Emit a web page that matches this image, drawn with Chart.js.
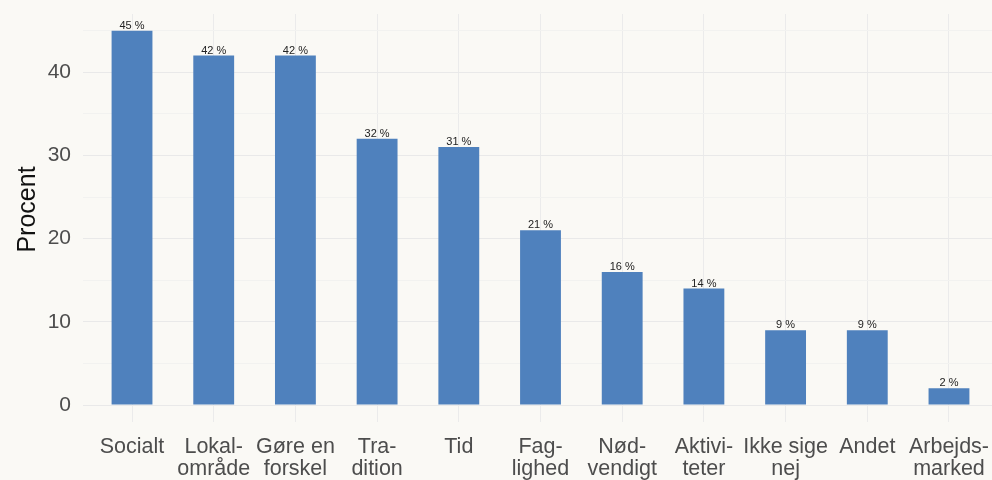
<!DOCTYPE html>
<html>
<head>
<meta charset="utf-8">
<script src="https://cdn.jsdelivr.net/npm/chart.js@4/dist/chart.umd.min.js"></script>
<style>
  html, body { margin: 0; padding: 0; background: #faf9f5; overflow: hidden; }
  #wrap { width: 998px; height: 480px; }
</style>
</head>
<body>
<div id="wrap"><canvas id="chart"></canvas></div>
<script>
// categories (wrapped as in the picture) and percentages
const categories = [
    ['Socialt'], ['Lokal-', 'område'], ['Gøre en', 'forskel'], ['Tra-', 'dition'],
    ['Tid'], ['Fag-', 'lighed'], ['Nød-', 'vendigt'], ['Aktivi-', 'teter'],
    ['Ikke sige', 'nej'], ['Andet'], ['Arbejds-', 'marked']
];
const values = [45, 42, 42, 32, 31, 21, 16, 14, 9, 9, 2];
const yTicks = [0, 10, 20, 30, 40];

const barLabels = {
    id: 'barLabels',
    afterDatasetsDraw(chart) {
        const ctx = chart.ctx;
        const meta = chart.getDatasetMeta(0);
        ctx.save();
        ctx.font = '11px "Liberation Sans", Arial, sans-serif';
        ctx.fillStyle = '#222';
        ctx.textAlign = 'center';
        ctx.textBaseline = 'alphabetic';
        meta.data.forEach(function (bar, i) {
            ctx.fillText(values[i] + ' %', bar.x, bar.y - 2);
        });
        ctx.restore();
    }
};

const ctx = document.getElementById('chart').getContext('2d');
new Chart(ctx, {
    type: 'bar',
    data: {
        datasets: [{
            data: values.map((v, i) => ({ x: i, y: v })),
            backgroundColor: '#4f81bd',
            borderWidth: 0,
            barPercentage: 0.5,
            categoryPercentage: 1
        }]
    },
    options: {
        responsive: true,
        maintainAspectRatio: false,
        animation: false,
        layout: { padding: { top: 14, left: 0, right: 0, bottom: 0 } },
        plugins: {
            legend: { display: false },
            tooltip: { enabled: false }
        },
        scales: {
            x: {
                type: 'linear',
                offset: false,
                min: -0.6,
                max: categories.length - 0.4,
                afterBuildTicks: function (axis) {
                    axis.ticks = categories.map((_, i) => ({ value: i }));
                },
                afterFit: function (axis) {
                    axis.height = 75;
                    axis.paddingLeft = 0;
                    axis.paddingRight = 0;
                },
                border: { display: false },
                grid: { offset: false, color: '#ebebeb', lineWidth: 1, tickLength: 17 },
                ticks: {
                    autoSkip: false,
                    maxRotation: 0,
                    padding: 14,
                    color: '#4d4d4d',
                    font: { family: '"Liberation Sans", Arial, sans-serif', size: 21.5, lineHeight: 1.03 },
                    callback: function (value) { return categories[value]; }
                }
            },
            y: {
                min: 0,
                max: 47,
                afterFit: function (axis) {
                    axis.width = 83;
                    axis.paddingTop = 0;
                    axis.paddingBottom = 0;
                },
                border: { display: false },
                grid: {
                    drawTicks: false,
                    color: function (c) {
                        return yTicks.includes(c.tick.value) ? '#e9e9e9' : '#f2f2f0';
                    }
                },
                ticks: {
                    stepSize: 5,
                    includeBounds: false,
                    padding: 12,
                    color: '#4d4d4d',
                    font: { family: '"Liberation Sans", Arial, sans-serif', size: 21 },
                    callback: function (v) { return yTicks.includes(v) ? v : ''; }
                },
                title: {
                    display: true,
                    text: 'Procent',
                    color: '#111',
                    padding: { top: 13, bottom: 0 },
                    font: { family: '"Liberation Sans", Arial, sans-serif', size: 25 }
                }
            }
        }
    },
    plugins: [barLabels]
});
</script>
</body>
</html>
